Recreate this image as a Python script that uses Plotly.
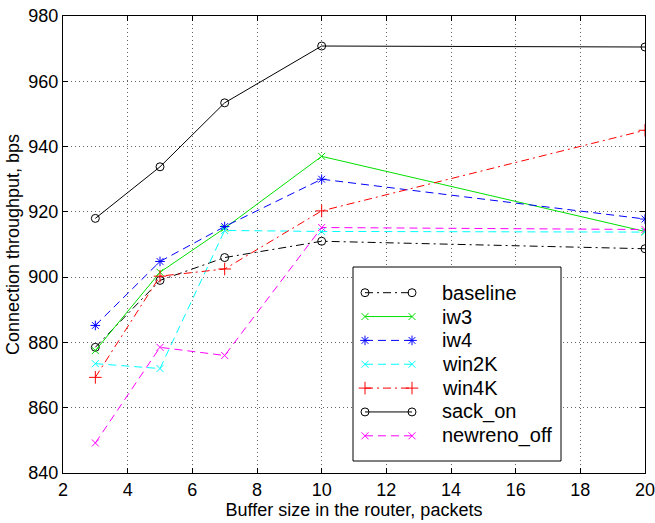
import plotly.graph_objects as go

# ---- data ----
buffer_sizes = [3, 5, 7, 10, 20]
baseline = [878.5, 899, 906, 911, 908.7]
iw3 = [877.5, 901.5, 915, 937, 914]
iw4 = [885.2, 904.8, 915.5, 930, 917.8]
win2k = [873.5, 872, 914.3, 914, 913.8]
win4k = [869.3, 900.3, 902.5, 920.3, 945]
sack_on = [918, 933.8, 953.4, 970.8, 970.5]
newreno_off = [849.2, 878.5, 876, 915.2, 914.6]

series_names = ["baseline", "iw3", "iw4", "win2K", "win4K", "sack_on", "newreno_off"]
series_values = [baseline, iw3, iw4, win2k, win4k, sack_on, newreno_off]

# ---- styles ----
DASH = "8px,5px"
DASHDOT = "8px,4px,2px,4px"
styles = [
    dict(color="black", dash=DASHDOT, symbol="circle-open", size=8),
    dict(color="#00e000", dash="solid", symbol="x-thin-open", size=7),
    dict(color="blue", dash=DASH, symbol="asterisk-open", size=8),
    dict(color="cyan", dash=DASH, symbol="x-thin-open", size=7),
    dict(color="red", dash=DASHDOT, symbol="cross-thin-open", size=9),
    dict(color="black", dash="solid", symbol="circle-open", size=8),
    dict(color="magenta", dash=DASH, symbol="x-thin-open", size=7),
]

W, H = 655, 523
L, R, T, B = 63, 10, 16, 50
PW, PH = W - L - R, H - T - B


def fx(px):
    return (px - L) / PW


def fy(py):
    return (H - B - py) / PH


fig = go.Figure()
for name, ys, st in zip(series_names, series_values, styles):
    fig.add_trace(go.Scatter(
        x=buffer_sizes, y=ys, name=name, mode="lines+markers",
        line=dict(color=st["color"], width=1, dash=st["dash"]),
        marker=dict(symbol=st["symbol"], size=st["size"], color=st["color"],
                    line=dict(width=1, color=st["color"])),
        showlegend=False, xaxis="x", yaxis="y",
    ))

# ---- custom legend drawn on an overlay axis (fractions of plot area) ----
box_l, box_r, box_t, box_b = 353, 561, 267, 461
fig.add_trace(go.Scatter(
    x=[fx(box_l), fx(box_r), fx(box_r), fx(box_l), fx(box_l)],
    y=[fy(box_t), fy(box_t), fy(box_b), fy(box_b), fy(box_t)],
    mode="lines", fill="toself", fillcolor="white",
    line=dict(color="black", width=1), showlegend=False,
    xaxis="x2", yaxis="y2", hoverinfo="skip",
))
row0, row_gap = 292.7, 23.85
seg_l, seg_r, text_x = 365, 412, 440
for i, (name, st) in enumerate(zip(series_names, styles)):
    ry = row0 + i * row_gap
    fig.add_trace(go.Scatter(
        x=[fx(seg_l), fx(seg_r)], y=[fy(ry), fy(ry)], mode="lines+markers",
        line=dict(color=st["color"], width=1, dash=st["dash"]),
        marker=dict(symbol=st["symbol"], size=st["size"], color=st["color"],
                    line=dict(width=1, color=st["color"])),
        showlegend=False, xaxis="x2", yaxis="y2", hoverinfo="skip",
    ))
    fig.add_annotation(x=fx(text_x), y=fy(ry), xref="paper", yref="paper",
                       text=name, showarrow=False, xanchor="left", yanchor="middle",
                       font=dict(size=20, color="black"))

axis_common = dict(
    showline=True, linecolor="black", linewidth=1, mirror="ticks",
    ticks="inside", ticklen=5, tickcolor="black",
    showgrid=True, gridcolor="#666666", griddash="1px,3px", gridwidth=1,
    zeroline=False, tickfont=dict(size=18, color="black"),
    automargin=False, ticklabeloverflow="allow",
)

fig.update_layout(
    width=W, height=H,
    margin=dict(l=L, r=R, t=T, b=B, autoexpand=False),
    paper_bgcolor="white", plot_bgcolor="white",
    font=dict(family="Liberation Sans, Arial, sans-serif", color="black", size=18),
    xaxis=dict(range=[2, 20], dtick=2, tick0=2,
               title=dict(text="Buffer size in the router, packets", standoff=2, font=dict(size=18)),
               **axis_common),
    yaxis=dict(range=[840, 980], dtick=20,
               title=dict(text="Connection throughput, bps", standoff=4, font=dict(size=18)),
               **axis_common),
    xaxis2=dict(overlaying="x", range=[0, 1], visible=False, fixedrange=True),
    yaxis2=dict(overlaying="y", range=[0, 1], visible=False, fixedrange=True),
    showlegend=False,
)

fig.write_html("out.html", config={"displayModeBar": False},
               post_script="document.body.style.margin='0';document.body.style.overflow='hidden';")
